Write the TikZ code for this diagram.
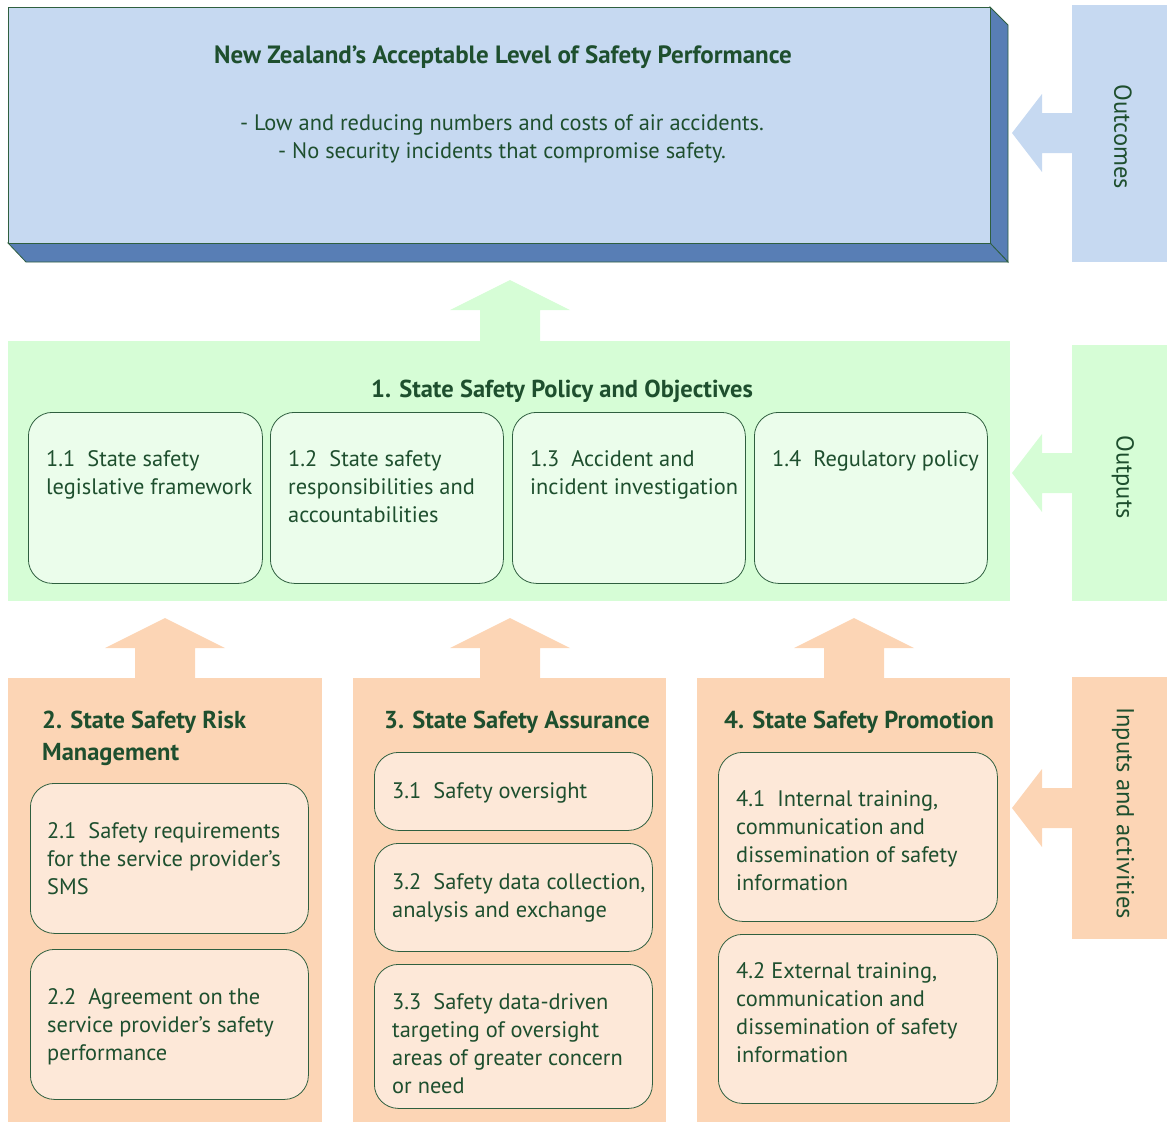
\documentclass[tikz,border=0pt]{standalone}
\usepackage{fontspec}
\setmainfont{PT Sans}
\usepackage{tikz}
\usetikzlibrary{positioning,calc}
\definecolor{txtgreen}{RGB}{30,79,46}
\definecolor{edgegreen}{RGB}{47,95,63}
\definecolor{lightblue}{RGB}{198,217,241}
\definecolor{darkblue}{RGB}{88,126,181}
\definecolor{bandgreen}{RGB}{214,253,214}
\definecolor{innergreen}{RGB}{235,253,235}
\definecolor{bandorange}{RGB}{252,213,181}
\definecolor{innerorange}{RGB}{253,232,216}
\tikzstyle{band} = [draw=none, anchor=north west, inner sep=0]
\tikzstyle{subbox} = [rounded corners=24pt, draw=edgegreen, line width=0.8pt, anchor=north west, inner sep=0]
\tikzstyle{txt} = [anchor=base west, align=left, inner sep=0, text=txtgreen, font=\fontsize{22.4}{28}\selectfont]
\tikzstyle{head} = [txt, font=\fontsize{24.5}{32}\selectfont\bfseries]
\tikzstyle{side} = [rotate=-90, inner sep=0, text=txtgreen, font=\fontsize{24.5}{28}\selectfont]
% block arrows, tip at (#1,#2)
\newcommand{\uparr}[3]{\fill[#3] (#1,#2) -- ++(60,30) -- ++(-30,0) -- ++(0,31) -- ++(-60,0) -- ++(0,-31) -- ++(-30,0) -- cycle;}
\newcommand{\leftarr}[3]{\fill[#3] (#1,#2) -- ++(30,-39) -- ++(0,19) -- ++(30,0) -- ++(0,40) -- ++(-30,0) -- ++(0,19) -- cycle;}

\begin{document}
\begin{tikzpicture}[x=1pt, y=-1pt]
    \useasboundingbox (0,0) rectangle (1167,1122);
    % outcome box
    \fill[darkblue, draw=edgegreen, line width=0.8pt] (990,7) -- (1008,25) -- (1008,262) -- (990,243) -- cycle;
    \fill[darkblue, draw=edgegreen, line width=0.8pt] (8,243) -- (26,262) -- (1008,262) -- (990,243) -- cycle;
    \node[band, fill=lightblue, draw=edgegreen, line width=0.8pt, minimum width=982, minimum height=236] (outc) at (8,7) {};
    \node[head, anchor=base, font=\fontsize{25}{32}\selectfont\bfseries] (outtitle) at (503,63) {New Zealand’s Acceptable Level of Safety Performance};
    \node[txt, anchor=base, align=center] (outtext) at (502,158) {- Low and reducing numbers and costs of air accidents.\\- No security incidents that compromise safety.};
    % side labels
    \node[band, fill=lightblue, minimum width=95, minimum height=257] (sideout) at (1072,5) {};
    \node[side] at (1123,137) {Outcomes};
    \leftarr{1012}{133}{lightblue}
    \node[band, fill=bandgreen, minimum width=95, minimum height=256] (sideput) at (1072,345) {};
    \node[side] at (1123,477) {Outputs};
    \leftarr{1012}{473}{bandgreen}
    \node[band, fill=bandorange, minimum width=95, minimum height=262] (sidein) at (1072,677) {};
    \node[side] at (1123,813) {Inputs and activities};
    \leftarr{1012}{808}{bandorange}
    % policy band
    \uparr{510}{280}{bandgreen}
    \node[band, fill=bandgreen, minimum width=1002, minimum height=260] (policy) at (8,341) {};
    \node[head, anchor=base] at (562,397) {1. State Safety Policy and Objectives};
    \node[subbox, fill=innergreen, minimum width=234, minimum height=171] (b11) at (28,412) {};
    \node[subbox, fill=innergreen, minimum width=233, minimum height=171] (b12) at (270,412) {};
    \node[subbox, fill=innergreen, minimum width=233, minimum height=171] (b13) at (512,412) {};
    \node[subbox, fill=innergreen, minimum width=233, minimum height=171] (b14) at (754,412) {};
    \node[txt] at (46,494) {1.1\ \ State safety\\legislative framework};
    \node[txt] at (288,522) {1.2\ \ State safety\\responsibilities and\\accountabilities};
    \node[txt] at (530,494) {1.3\ \ Accident and\\incident investigation};
    \node[txt] at (772,466) {1.4\ \ Regulatory policy};
    % input columns
    \uparr{165}{618}{bandorange}
    \uparr{510}{618}{bandorange}
    \uparr{854}{618}{bandorange}
    \node[band, fill=bandorange, minimum width=314, minimum height=444] (risk) at (8,678) {};
    \node[band, fill=bandorange, minimum width=313, minimum height=444] (assur) at (353,678) {};
    \node[band, fill=bandorange, minimum width=313, minimum height=444] (promo) at (697,678) {};
    \node[head] at (42,760) {2. State Safety Risk\\Management};
    \node[head] at (384,728) {3. State Safety Assurance};
    \node[head] at (724,728) {4. State Safety Promotion};
    \node[subbox, fill=innerorange, minimum width=278, minimum height=150] (b21) at (30,783) {};
    \node[subbox, fill=innerorange, minimum width=278, minimum height=150] (b22) at (30,949) {};
    \node[subbox, fill=innerorange, minimum width=278, minimum height=78] (b31) at (374,752) {};
    \node[subbox, fill=innerorange, minimum width=278, minimum height=108] (b32) at (374,843) {};
    \node[subbox, fill=innerorange, minimum width=278, minimum height=144] (b33) at (374,964) {};
    \node[subbox, fill=innerorange, minimum width=279, minimum height=169] (b41) at (718,752) {};
    \node[subbox, fill=innerorange, minimum width=279, minimum height=169] (b42) at (718,934) {};
    \node[txt] at (47,894) {2.1\ \ Safety requirements\\for the service provider’s\\SMS};
    \node[txt] at (47,1060) {2.2\ \ Agreement on the\\service provider’s safety\\performance};
    \node[txt] at (392,798) {3.1\ \ Safety oversight};
    \node[txt] at (392,917) {3.2\ \ Safety data collection,\\analysis and exchange};
    \node[txt] at (392,1093) {3.3\ \ Safety data-driven\\targeting of oversight\\areas of greater concern\\or need};
    \node[txt] at (736,890) {4.1\ \ Internal training,\\communication and\\dissemination of safety\\information};
    \node[txt] at (736,1062) {4.2 External training,\\communication and\\dissemination of safety\\information};
\end{tikzpicture}
\end{document}
